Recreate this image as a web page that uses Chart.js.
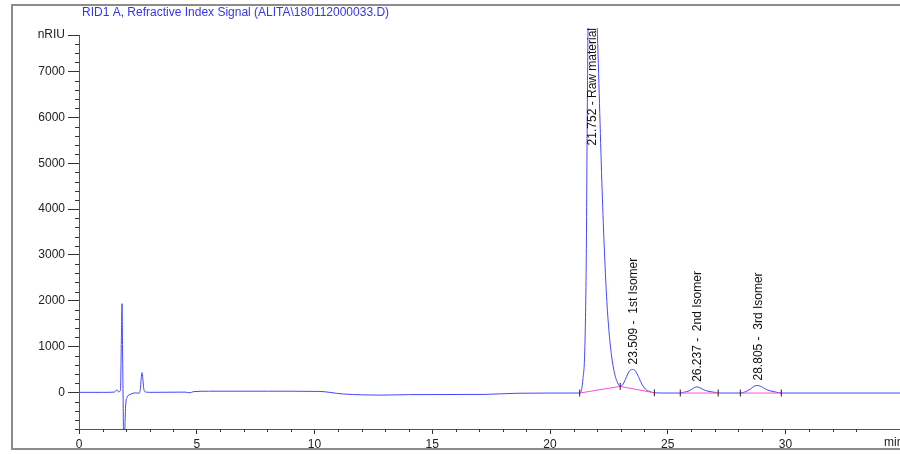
<!DOCTYPE html>
<html>
<head>
<meta charset="utf-8">
<script src="https://cdn.jsdelivr.net/npm/chart.js@4.4.0/dist/chart.umd.min.js"></script>
<style>
  html, body { margin: 0; padding: 0; background: #fff; overflow: hidden; }
  #wrap { width: 900px; height: 454px; position: relative; }
</style>
</head>
<body>
<div id="wrap"><canvas id="chrom"></canvas></div>
<script>
// retention time (min) and detector signal (nRIU)
const times = [
  0, 1.0, 1.5, 1.61, 1.68, 1.76, 1.8, 1.826, 1.85, 1.875, 1.9, 1.94, 1.98, 2.05, 2.2, 2.4,
  2.55, 2.6, 2.64, 2.675, 2.71, 2.75, 2.82, 3.0, 4.5, 4.72, 4.85, 5.5, 8.0, 10.2, 11.2,
  12.9, 14.0, 17.2, 18.6, 21.0, 21.26,
  21.3, 21.4, 21.48, 21.54, 21.58, 21.62, 21.7, 21.752, 21.82, 21.92, 22.0, 22.1, 22.2,
  22.3, 22.4, 22.5, 22.6, 22.7, 22.8, 22.9, 22.98,
  23.1, 23.2, 23.3, 23.4, 23.509, 23.6, 23.7, 23.8, 23.9, 24.0, 24.1, 24.2, 24.43,
  25.0, 25.53, 25.7, 25.9, 26.05, 26.237, 26.4, 26.55, 26.75, 27.0, 27.14,
  28.08, 28.3, 28.5, 28.65, 28.805, 28.95, 29.1, 29.3, 29.55, 29.82, 31.0, 34.86
];
const signal = [
  0, 0, 5, 55, 10, 50, 1200, 1935, 900, -200, -1400, -900, -300, -100, -40, -10,
  -20, 60, 300, 430, 300, 80, 10, 0, 5, -10, 15, 25, 25, 20, -35,
  -60, -50, -45, -20, -15, -15,
  0, 300, 1000, 3000, 6000, 8200, 9400, 9600, 9500, 8900, 8000, 6300, 4600,
  3200, 2100, 1350, 850, 510, 300, 180, 130,
  180, 280, 400, 480, 500, 480, 400, 290, 180, 100, 50, 25, -10,
  -15, -15, 5, 30, 80, 120, 90, 50, 20, 0, -15,
  -15, 15, 70, 130, 150, 130, 85, 40, 10, -15, -15, -15
];

// integration baselines (null = gap)
const baseTimes = [21.26, 22.98, 24.43, 24.9, 25.53, 27.14, 27.6, 28.08, 29.82];
const baseValues = [-15, 130, -10, null, -15, -15, null, -15, -15];

// peak start / end markers
const markTimes = [21.26, 22.98, 24.43, 25.53, 27.14, 28.08, 29.82];
const markValues = [-15, 130, -10, -15, -15, -15, -15];

const peakTimes = [21.752, 23.509, 26.237, 28.805];
const peakLabels = ["21.752 - Raw material", "23.509 -  1st Isomer", "26.237 -  2nd Isomer", "28.805 -  3rd Isomer"];

const xMin = 0, xMax = 34.86;
const yMin = -800, yMax = 7800;

const FONT = '"Liberation Sans", Arial, sans-serif';

const framePlugin = {
  id: 'frame',
  beforeDraw(chart) {
    const ctx = chart.ctx;
    ctx.save();
    ctx.strokeStyle = '#8c8c8c';
    ctx.lineWidth = 2;
    ctx.beginPath();
    ctx.moveTo(902, 5); ctx.lineTo(12, 5); ctx.lineTo(12, 449); ctx.lineTo(902, 449);
    ctx.stroke();
    ctx.fillStyle = '#3535f0';
    ctx.font = '12px ' + FONT;
    ctx.textBaseline = 'middle';
    ctx.fillText('RID1 A, Refractive Index Signal (ALITA\\180112000033.D)', 82, 13);
    ctx.fillStyle = '#222';
    ctx.fillText('min', 884, 443);
    ctx.restore();
  },
  afterDraw(chart) {
    // short minor ticks
    const ctx = chart.ctx;
    const xs = chart.scales.x, ys = chart.scales.y;
    const area = chart.chartArea;
    ctx.save();
    ctx.strokeStyle = '#333';
    ctx.lineWidth = 1;
    ctx.beginPath();
    xs.ticks.forEach(t => {
      if (Math.abs(t.value % 5) < 1e-6 || Math.abs(t.value - Math.round(t.value)) > 1e-6) return;
      const px = Math.round(xs.getPixelForValue(t.value)) + 0.5;
      ctx.moveTo(px, area.bottom); ctx.lineTo(px, area.bottom + 3);
    });
    ys.ticks.forEach(t => {
      if (Math.abs(t.value % 1000) < 1e-6 || t.value === yMax) return;
      const py = Math.round(ys.getPixelForValue(t.value)) + 0.5;
      ctx.moveTo(area.left - 4, py); ctx.lineTo(area.left, py);
    });
    ctx.stroke();
    ctx.restore();
  }
};

const labelPlugin = {
  id: 'peakLabels',
  afterDatasetsDraw(chart) {
    const ctx = chart.ctx;
    const xs = chart.scales.x, ys = chart.scales.y;
    const area = chart.chartArea;
    ctx.save();
    ctx.font = '12px ' + FONT;
    ctx.fillStyle = '#111';
    ctx.textAlign = 'left';
    ctx.textBaseline = 'middle';
    peakTimes.forEach((pt, i) => {
      const h = signal[times.indexOf(pt)];
      const px = xs.getPixelForValue(pt) + 1;
      const apex = ys.getPixelForValue(h);
      const w = ctx.measureText(peakLabels[i]).width;
      const start = Math.max(apex - 5, area.top - 7 + w);
      ctx.save();
      ctx.translate(px, start);
      ctx.rotate(-Math.PI / 2);
      ctx.fillText(peakLabels[i], 0, 0);
      ctx.restore();
    });
    ctx.restore();
  }
};

new Chart(document.getElementById('chrom'), {
  type: 'line',
  data: {
    datasets: [
      {
        type: 'scatter',
        data: markTimes.map((t, i) => ({ x: t, y: markValues[i] })),
        pointStyle: 'line',
        rotation: 90,
        radius: 3.5,
        borderColor: '#222',
        borderWidth: 1,
        showLine: false,
        order: 0
      },
      {
        data: baseTimes.map((t, i) => ({ x: t, y: baseValues[i] })),
        borderColor: '#ff4fd8',
        borderWidth: 1,
        pointRadius: 0,
        spanGaps: false,
        order: 1
      },
      {
        data: times.map((t, i) => ({ x: t, y: signal[i] })),
        borderColor: 'rgb(70,70,255)',
        borderWidth: 1,
        pointRadius: 0,
        cubicInterpolationMode: 'monotone',
        clip: { left: 0, top: 7, right: 0, bottom: 0 },
        order: 2
      }
    ]
  },
  options: {
    responsive: true,
    maintainAspectRatio: false,
    animation: false,
    devicePixelRatio: 1,
    layout: { autoPadding: false, padding: { top: 35, left: 0, right: 0, bottom: 0 } },
    plugins: { legend: { display: false }, tooltip: { enabled: false } },
    scales: {
      x: {
        type: 'linear',
        min: xMin,
        max: xMax,
        afterFit: s => { s.height = 25; s.paddingLeft = 0; s.paddingRight = 0; },
        grid: {
          display: true,
          drawOnChartArea: false,
          tickLength: 5,
          tickColor: c => (c.tick && c.tick.value % 5 === 0) ? '#333' : 'rgba(0,0,0,0)'
        },
        border: { display: true, color: '#555', width: 1 },
        ticks: {
          stepSize: 1,
          autoSkip: false,
          maxRotation: 0,
          padding: 3,
          color: '#222',
          font: { size: 12, family: FONT },
          callback: v => (v % 5 === 0 ? String(v) : '')
        }
      },
      y: {
        min: yMin,
        max: yMax,
        afterFit: s => { s.width = 79; s.paddingTop = 0; s.paddingBottom = 0; },
        grid: {
          display: true,
          drawOnChartArea: false,
          tickLength: 11,
          tickColor: c => (c.tick && (c.tick.value % 1000 === 0 || c.tick.value === yMax)) ? '#333' : 'rgba(0,0,0,0)'
        },
        border: { display: true, color: '#555', width: 1 },
        ticks: {
          stepSize: 200,
          autoSkip: false,
          padding: 3,
          color: '#222',
          font: { size: 12, family: FONT },
          callback: v => (v === yMax ? 'nRIU' : (v % 1000 === 0 ? String(v) : ''))
        }
      }
    }
  },
  plugins: [framePlugin, labelPlugin]
});
</script>
</body>
</html>
